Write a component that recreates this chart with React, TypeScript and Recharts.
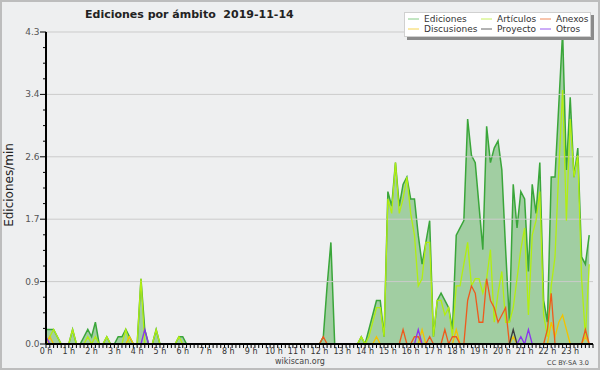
import React from 'react';
import { ComposedChart, Area, Line, XAxis, YAxis, ReferenceLine } from 'recharts';

document.body.style.margin = '0';

// one value every 10 minutes, 00:00 .. 23:50 (edits per minute)
const ediciones = [
  0.2, 0.2, 0.2, 0.1, 0, 0, 0, 0.2, 0, 0, 0.1, 0.2,
  0.1, 0.3, 0, 0, 0.1, 0, 0, 0.1, 0.1, 0.2, 0.1, 0,
  0, 0.9, 0.2, 0, 0, 0.2, 0, 0, 0, 0, 0, 0.1,
  0.1, 0, 0, 0, 0, 0, 0, 0, 0, 0, 0, 0,
  0, 0, 0, 0, 0, 0, 0, 0, 0, 0, 0, 0,
  0, 0, 0, 0, 0, 0, 0, 0, 0, 0, 0, 0,
  0, 0.1, 0.8, 1.4, 0, 0, 0, 0, 0, 0, 0, 0.1,
  0, 0.2, 0.4, 0.6, 0.6, 0.1, 2.1, 1.9, 2.5, 1.9, 2.2, 2.3,
  2.0, 2.0, 1.5, 1.1, 1.4, 1.7, 0.1, 0.6, 0.7, 0.6, 0.5, 0.2,
  1.5, 1.6, 1.7, 3.1, 2.6, 2.5, 1.9, 1.3, 3.0, 2.5, 2.7, 2.8,
  2.4, 1.3, 0.3, 2.2, 1.6, 2.1, 2.0, 1.0, 2.2, 1.8, 2.5, 0.6,
  0.3, 2.3, 2.3, 3.3, 4.3, 2.4, 3.4, 2.3, 2.7, 1.2, 1.1, 1.5,
];
const articulos = [
  0, 0.1, 0.2, 0.1, 0, 0, 0, 0.2, 0, 0, 0, 0.1,
  0, 0.1, 0, 0, 0.1, 0, 0, 0, 0, 0.2, 0, 0,
  0, 0.9, 0, 0, 0, 0.2, 0, 0, 0, 0, 0, 0.1,
  0, 0, 0, 0, 0, 0, 0, 0, 0, 0, 0, 0,
  0, 0, 0, 0, 0, 0, 0, 0, 0, 0, 0, 0,
  0, 0, 0, 0, 0, 0, 0, 0, 0, 0, 0, 0,
  0, 0, 0, 0, 0, 0, 0, 0, 0, 0, 0, 0.1,
  0, 0.1, 0.3, 0.5, 0.5, 0.1, 2.0, 1.8, 2.5, 1.8, 2.0, 2.3,
  1.8, 1.5, 0.8, 0.9, 1.4, 1.4, 0.1, 0.6, 0.6, 0.4, 0.5, 0.1,
  0.8, 0.8, 1.1, 1.4, 0.8, 0.9, 0.9, 0.7, 0.9, 1.3, 0.3, 0.7,
  1.0, 0.3, 0.3, 0.5, 0.9, 1.3, 1.6, 0.4, 1.5, 1.7, 2.1, 0.4,
  0.1, 0.8, 1.2, 2.4, 3.5, 1.7, 3.1, 2.3, 2.6, 0.9, 0.1, 1.1,
];
const anexos = [
  0, 0, 0, 0, 0, 0, 0, 0, 0, 0, 0, 0,
  0, 0, 0, 0, 0, 0, 0, 0, 0, 0, 0, 0,
  0, 0, 0, 0, 0, 0, 0, 0, 0, 0, 0, 0,
  0, 0, 0, 0, 0, 0, 0, 0, 0, 0, 0, 0,
  0, 0, 0, 0, 0, 0, 0, 0, 0, 0, 0, 0,
  0, 0, 0, 0, 0, 0, 0, 0, 0, 0, 0, 0,
  0, 0.1, 0, 0, 0, 0, 0, 0, 0, 0, 0, 0,
  0, 0, 0, 0, 0, 0, 0, 0, 0, 0, 0.2, 0,
  0, 0.1, 0.1, 0, 0, 0.1, 0, 0, 0, 0.2, 0, 0.1,
  0.1, 0, 0, 0.6, 0.8, 0.7, 0.3, 0.3, 0.9, 0.6, 0.5, 0.3,
  0.4, 0.5, 0, 0, 0, 0, 0, 0, 0, 0, 0, 0,
  0.2, 0.7, 0, 0, 0, 0, 0, 0, 0, 0, 0.2, 0,
];
const discusiones = [
  0, 0.1, 0, 0, 0, 0, 0, 0, 0, 0, 0, 0,
  0, 0, 0, 0, 0, 0, 0, 0, 0, 0, 0.1, 0,
  0, 0, 0, 0, 0, 0, 0, 0, 0, 0, 0, 0,
  0, 0, 0, 0, 0, 0, 0, 0, 0, 0, 0, 0,
  0, 0, 0, 0, 0, 0, 0, 0, 0, 0, 0, 0,
  0, 0, 0, 0, 0, 0, 0, 0, 0, 0, 0, 0,
  0, 0, 0, 0, 0, 0, 0, 0, 0, 0, 0, 0,
  0, 0, 0, 0.1, 0, 0, 0, 0, 0, 0, 0, 0,
  0, 0, 0, 0.2, 0, 0, 0, 0, 0, 0, 0, 0,
  0.2, 0, 0, 0, 0, 0, 0, 0, 0, 0, 0, 0,
  0, 0, 0, 0.1, 0, 0, 0, 0, 0, 0, 0, 0,
  0, 0.3, 0.1, 0.3, 0.4, 0.2, 0, 0, 0, 0, 0.1, 0,
];
const proyecto = [
  0, 0, 0, 0, 0, 0, 0, 0, 0, 0, 0, 0,
  0, 0, 0, 0, 0, 0, 0, 0, 0, 0, 0, 0,
  0, 0, 0, 0, 0, 0, 0, 0, 0, 0, 0, 0,
  0, 0, 0, 0, 0, 0, 0, 0, 0, 0, 0, 0,
  0, 0, 0, 0, 0, 0, 0, 0, 0, 0, 0, 0,
  0, 0, 0, 0, 0, 0, 0, 0, 0, 0, 0, 0,
  0, 0, 0, 0, 0, 0, 0, 0, 0, 0, 0, 0,
  0, 0, 0, 0, 0, 0, 0, 0, 0, 0, 0, 0,
  0, 0, 0, 0, 0, 0, 0, 0, 0, 0, 0, 0,
  0, 0, 0, 0, 0, 0, 0, 0, 0, 0, 0, 0,
  0, 0, 0, 0.2, 0, 0, 0, 0, 0, 0, 0, 0,
  0, 0, 0, 0, 0, 0, 0, 0, 0, 0, 0, 0,
];
const otros = [
  0.1, 0, 0, 0, 0, 0, 0, 0, 0, 0, 0, 0,
  0, 0, 0, 0, 0, 0, 0, 0, 0, 0, 0, 0,
  0, 0, 0.2, 0, 0, 0, 0, 0, 0, 0, 0, 0,
  0, 0, 0, 0, 0, 0, 0, 0, 0, 0, 0, 0,
  0, 0, 0, 0, 0, 0, 0, 0, 0, 0, 0, 0,
  0, 0, 0, 0, 0, 0, 0, 0, 0, 0, 0, 0,
  0, 0, 0, 0, 0, 0, 0, 0, 0, 0, 0, 0,
  0, 0, 0, 0, 0, 0, 0, 0, 0, 0, 0, 0,
  0, 0, 0.2, 0, 0, 0, 0, 0, 0, 0, 0, 0,
  0, 0, 0, 0, 0, 0, 0, 0, 0, 0, 0, 0,
  0, 0, 0, 0, 0, 0.1, 0, 0.2, 0, 0, 0, 0,
  0, 0, 0, 0, 0, 0, 0, 0, 0, 0, 0, 0,
];

const hourLabels = [
  '0 h', '1 h', '2 h', '3 h', '4 h', '5 h', '6 h', '7 h', '8 h', '9 h', '10 h', '11 h',
  '12 h', '13 h', '14 h', '15 h', '16 h', '17 h', '18 h', '19 h', '20 h', '21 h', '22 h', '23 h',
];
const yMajor = [0, 0.86, 1.72, 2.58, 3.44, 4.3];
const yLabels = ['0.0', '0.9', '1.7', '2.6', '3.4', '4.3'];

const series = [
  { key: 'ediciones', name: 'Ediciones', color: '#3aa63a', legend: '#86cc86' },
  { key: 'articulos', name: 'Artículos', color: '#b2ee12', legend: '#c8f060' },
  { key: 'anexos', name: 'Anexos', color: '#ee5a1c', legend: '#f08a5a' },
  { key: 'discusiones', name: 'Discusiones', color: '#f2c300', legend: '#f5d450' },
  { key: 'proyecto', name: 'Proyecto', color: '#3a3a3a', legend: '#666666' },
  { key: 'otros', name: 'Otros', color: '#8a33ee', legend: '#9a5af0' },
];
const colorOf = (k: string) => series.find(s => s.key === k)!.color;

const data = ediciones.map((v, i) => ({
  slot: i,
  ediciones: v,
  articulos: articulos[i],
  anexos: anexos[i],
  discusiones: discusiones[i],
  proyecto: proyecto[i],
  otros: otros[i],
}));

const xTicks = Array.from({ length: 145 }, (_, i) => i);
const yTicks: number[] = [];
yMajor.forEach((v, k) => {
  yTicks.push(v);
  if (k < yMajor.length - 1) {
    const step = (yMajor[k + 1] - v) / 4;
    for (let j = 1; j < 4; j++) yTicks.push(v + step * j);
  }
});

const FONT = '"DejaVu Sans", Verdana, sans-serif';

const XTick = (props: any) => {
  const { x, y, payload } = props;
  const v = payload.value as number;
  const isHour = v % 6 === 0 && v < 144;
  return (
    <g>
      <line x1={x} x2={x} y1={y} y2={y + 4} stroke="#000" strokeWidth={1} />
      {isHour && (
        <text x={x} y={y + 9.5} textAnchor="middle" fontSize={8} fill="#333" fontFamily={FONT}>
          {hourLabels[v / 6]}
        </text>
      )}
    </g>
  );
};

const YTick = (props: any) => {
  const { x, y, payload } = props;
  const v = payload.value as number;
  const k = yMajor.findIndex(m => Math.abs(m - v) < 1e-6);
  const major = k >= 0;
  return (
    <g>
      <line x1={x - (major ? 6 : 3)} x2={x} y1={y} y2={y} stroke="#000" strokeWidth={1} />
      {major && (
        <text x={x - 6.5} y={y + 3} textAnchor="end" fontSize={9} fill="#555" fontFamily={FONT}>
          {yLabels[k]}
        </text>
      )}
    </g>
  );
};

const legendCols = [408, 481, 540];
const legendRows = [22, 32];
const legendOrder = [
  ['ediciones', 'articulos', 'anexos'],
  ['discusiones', 'proyecto', 'otros'],
];

export default function App() {
  return (
    <div style={{ position: 'relative', width: 600, height: 370, background: '#eeeff0' }}>
      <ComposedChart
        width={600}
        height={370}
        data={data}
        margin={{ top: 32, right: 7, left: 0, bottom: 0 }}
      >
        {yMajor.slice(1).map(v => (
          <ReferenceLine key={v} y={v} stroke="#cbcbcb" strokeWidth={1} />
        ))}
        <Area
          type="linear"
          dataKey="ediciones"
          stroke={colorOf('ediciones')}
          strokeWidth={1.5}
          fill="#2e9e2e"
          fillOpacity={0.4}
          dot={false}
          activeDot={false}
          isAnimationActive={false}
        />
        {['articulos', 'discusiones', 'anexos', 'proyecto', 'otros'].map(k => (
          <Line
            key={k}
            type="linear"
            dataKey={k}
            stroke={colorOf(k)}
            strokeWidth={1.3}
            dot={false}
            activeDot={false}
            isAnimationActive={false}
          />
        ))}
        <XAxis
          dataKey="slot"
          type="number"
          domain={[0, 144]}
          ticks={xTicks}
          interval={0}
          height={26}
          tickSize={0}
          tickMargin={0}
          tickLine={false}
          axisLine={{ stroke: '#000', strokeWidth: 2 }}
          tick={<XTick />}
        />
        <YAxis
          type="number"
          domain={[0, 4.3]}
          ticks={yTicks}
          interval={0}
          width={46}
          tickSize={0}
          tickMargin={0}
          tickLine={false}
          axisLine={{ stroke: '#000', strokeWidth: 2 }}
          tick={<YTick />}
        />
      </ComposedChart>
      <svg
        width={600}
        height={370}
        style={{ position: 'absolute', left: 0, top: 0, pointerEvents: 'none' }}
      >
        <rect x={1} y={1} width={598} height={368} fill="none" stroke="#bdbdbd" strokeWidth={2} />
        <text
          x={85}
          y={18.3}
          fontSize={11}
          fontWeight="bold"
          fill="#222"
          fontFamily={FONT}
          style={{ whiteSpace: 'pre' }}
        >
          {'Ediciones por ámbito  2019-11-14'}
        </text>
        <text
          x={13}
          y={185}
          transform="rotate(-90 13 185)"
          textAnchor="middle"
          fontSize={12}
          fill="#222"
          fontFamily={FONT}
        >
          Ediciones/min
        </text>
        <text x={300} y={364} textAnchor="middle" fontSize={8} fill="#444" fontFamily={FONT}>
          wikiscan.org
        </text>
        <text x={589} y={365} textAnchor="end" fontSize={6.5} fill="#444" fontFamily={FONT}>
          CC BY-SA 3.0
        </text>
        <rect x={407} y={15} width={187} height={25} fill="#8a8a8a" />
        <rect x={404.5} y={12.5} width={186} height={24} fill="#fff" stroke="#d0d0d0" />
        {legendOrder.map((row, r) =>
          row.map((k, c) => {
            const s = series.find(item => item.key === k)!;
            const ly = legendRows[r] - 3;
            return (
              <g key={k}>
                <line
                  x1={legendCols[c]}
                  x2={legendCols[c] + 11}
                  y1={ly}
                  y2={ly}
                  stroke={s.legend}
                  strokeWidth={1}
                />
                <text
                  x={legendCols[c] + 16}
                  y={legendRows[r]}
                  fontSize={9}
                  fill="#333"
                  fontFamily={FONT}
                >
                  {s.name}
                </text>
              </g>
            );
          })
        )}
      </svg>
    </div>
  );
}
